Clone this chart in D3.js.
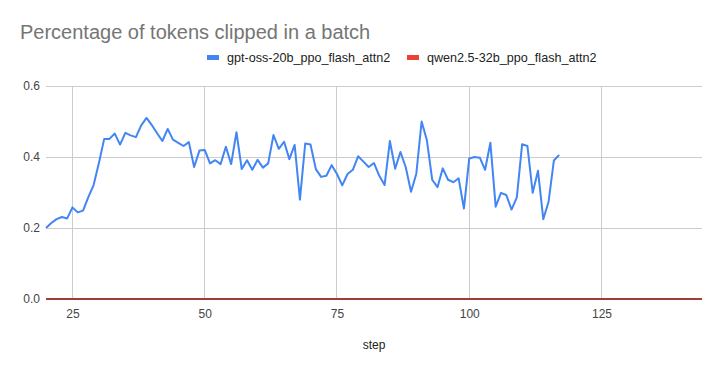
<!DOCTYPE html>
<html><head><meta charset="utf-8">
<script src="https://cdn.jsdelivr.net/npm/d3@7"></script>
<style>
body{margin:0;background:#fff;}
text{font-family:Arial,"Liberation Sans",sans-serif;}
</style></head><body>
<svg id="c" width="722" height="371"></svg>
<script>
const title = "Percentage of tokens clipped in a batch";
const seriesNames = ["gpt-oss-20b_ppo_flash_attn2", "qwen2.5-32b_ppo_flash_attn2"];
const seriesColors = ["#4285f4", "#ea4335"];
const xLabel = "step";
const xTicks = [25, 50, 75, 100, 125];
const yTicks = [0.0, 0.2, 0.4, 0.6];
const xDomain = [20, 144];
const yDomain = [0, 0.6];

// gpt-oss-20b: steps 20..117
const gptStartStep = 20;
const gptValues = [
  0.200, 0.214, 0.225, 0.231, 0.227, 0.258, 0.244, 0.249, 0.287, 0.321,
  0.383, 0.451, 0.451, 0.466, 0.435, 0.468, 0.461, 0.456, 0.489, 0.510,
  0.490, 0.467, 0.445, 0.479, 0.449, 0.440, 0.431, 0.442, 0.372, 0.418,
  0.420, 0.382, 0.391, 0.380, 0.429, 0.380, 0.470, 0.366, 0.391, 0.364,
  0.392, 0.370, 0.382, 0.462, 0.423, 0.443, 0.394, 0.434, 0.280, 0.438,
  0.435, 0.366, 0.344, 0.347, 0.377, 0.352, 0.320, 0.352, 0.364, 0.402,
  0.387, 0.372, 0.383, 0.347, 0.321, 0.445, 0.367, 0.414, 0.371, 0.302,
  0.353, 0.500, 0.447, 0.336, 0.315, 0.368, 0.336, 0.329, 0.340, 0.255,
  0.396, 0.400, 0.398, 0.364, 0.440, 0.260, 0.299, 0.293, 0.252, 0.286,
  0.436, 0.431, 0.299, 0.361, 0.225, 0.274, 0.390, 0.406
];

// qwen2.5-32b: steps 20..144, flat at zero
const qwenStartStep = 20;
const qwenValues = [
  0,0,0,0,0,0,0,0,0,0, 0,0,0,0,0,0,0,0,0,0, 0,0,0,0,0,0,0,0,0,0,
  0,0,0,0,0,0,0,0,0,0, 0,0,0,0,0,0,0,0,0,0, 0,0,0,0,0,0,0,0,0,0,
  0,0,0,0,0,0,0,0,0,0, 0,0,0,0,0,0,0,0,0,0, 0,0,0,0,0,0,0,0,0,0,
  0,0,0,0,0,0,0,0,0,0, 0,0,0,0,0,0,0,0,0,0, 0,0,0,0,0,0,0,0,0,0,
  0,0,0,0,0
];

const svg = d3.select("#c");
const m = {left: 46, right: 702, top: 86, bottom: 299};
const x = d3.scaleLinear().domain(xDomain).range([m.left, m.right]);
const y = d3.scaleLinear().domain(yDomain).range([m.bottom, m.top]);

svg.append("rect").attr("width", 722).attr("height", 371).attr("fill", "#fff");

// title
svg.append("text").attr("x", 20).attr("y", 39).attr("font-size", 20)
  .attr("fill", "#757575").text(title);

// gridlines
const g = svg.append("g");
g.selectAll(".hg").data(yTicks.filter(d => d > 0)).join("line")
  .attr("x1", m.left).attr("x2", m.right)
  .attr("y1", d => y(d)).attr("y2", d => y(d))
  .attr("stroke", "#cccccc").attr("stroke-width", 1).attr("shape-rendering", "crispEdges");
g.selectAll(".vg").data(xTicks).join("line")
  .attr("x1", d => x(d)).attr("x2", d => x(d))
  .attr("y1", m.top).attr("y2", m.bottom)
  .attr("stroke", "#cccccc").attr("stroke-width", 1).attr("shape-rendering", "crispEdges");

// y axis labels
const yAxis = d3.axisLeft(y).tickValues(yTicks).tickSize(0).tickPadding(6).tickFormat(d3.format(".1f"));
const ya = svg.append("g").attr("transform", `translate(${m.left},0)`).call(yAxis);
ya.select(".domain").remove();
ya.selectAll("text").attr("font-size", 12).attr("fill", "#444").attr("font-family", "Arial,'Liberation Sans',sans-serif");

// x axis labels
const xAxis = d3.axisBottom(x).tickValues(xTicks).tickSize(0).tickPadding(10).tickFormat(d3.format("d"));
const xa = svg.append("g").attr("transform", `translate(0,${m.bottom})`).call(xAxis);
xa.select(".domain").remove();
xa.selectAll("text").attr("font-size", 12).attr("fill", "#444").attr("font-family", "Arial,'Liberation Sans',sans-serif");

svg.append("text").attr("x", (m.left + m.right) / 2).attr("y", 349)
  .attr("text-anchor", "middle").attr("font-size", 12).attr("fill", "#222").text(xLabel);

// series
const line = d3.line().x(d => x(d[0])).y(d => y(d[1]));
const gptData = gptValues.map((v, i) => [gptStartStep + i, v]);
const qwenData = qwenValues.map((v, i) => [qwenStartStep + i, v]);

svg.append("path").datum(qwenData).attr("d", line).attr("fill", "none")
  .attr("stroke", seriesColors[1]).attr("stroke-width", 2);

// baseline
svg.append("line").attr("x1", m.left).attr("x2", m.right)
  .attr("y1", y(0)).attr("y2", y(0)).attr("stroke", "#333").attr("stroke-width", 1)
  .attr("stroke-opacity", 0.8);

svg.append("path").datum(gptData).attr("d", line).attr("fill", "none")
  .attr("stroke", seriesColors[0]).attr("stroke-width", 2).attr("stroke-linejoin", "round");

// legend
const legend = svg.append("g");
const legX = [207, 407];
seriesNames.forEach((n, i) => {
  legend.append("rect").attr("x", legX[i]).attr("y", 55).attr("width", 12).attr("height", 5)
    .attr("fill", seriesColors[i]);
  legend.append("text").attr("x", legX[i] + 20).attr("y", 62).attr("font-size", 12.6)
    .attr("fill", "#222").text(n);
});
</script>
</body></html>
